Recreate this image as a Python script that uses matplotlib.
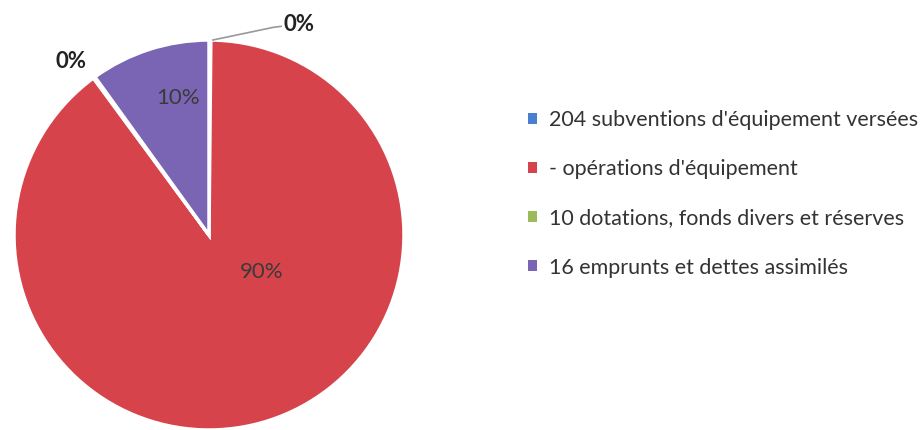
import matplotlib
matplotlib.use("Agg")
import matplotlib.pyplot as plt
import numpy as np

categories = ["204 subventions d'équipement versées",
              "- opérations d'équipement",
              "10 dotations, fonds divers et réserves",
              "16 emprunts et dettes assimilés"]
values = [0.15, 89.75, 0.15, 9.95]
pct_labels = ["0%", "90%", "0%", "10%"]
colors = ["#4a7fcf", "#d6434b", "#9bbb59", "#7a65b4"]

# label placement (axes-data units, pie radius = 1)
label_pos = [(0.46, 1.08), (0.27, -0.19), (-0.71, 0.89), (-0.16, 0.70)]
label_weight = ["bold", "normal", "bold", "normal"]

plt.rcParams['font.family'] = ['Lato', 'DejaVu Sans']

fig = plt.figure(figsize=(9.22, 4.30), dpi=100)
ax = fig.add_axes([14/922, 0/430, 390/922, 390/430])
wedges, _ = ax.pie(values, colors=colors, startangle=90, counterclock=False,
                   wedgeprops=dict(edgecolor="white", linewidth=2.5))
ax.set_xlim(-1, 1)
ax.set_ylim(-1, 1)
ax.set_aspect("equal")
ax.axis("off")
for w in wedges:
    w.set_clip_on(False)

for i, (lab, (x, y)) in enumerate(zip(pct_labels, label_pos)):
    ax.text(x, y, lab, ha="center", va="center", fontsize=16,
            color="#222222" if label_weight[i] == "bold" else "#3a3a3a",
            fontweight=label_weight[i], clip_on=False)

# leader line for first small slice
ax.plot([0.02, 0.33, 0.37], [1.0, 1.065, 1.07], color="#999999", lw=1.2, clip_on=False)

leg = fig.legend(wedges, categories, loc="upper left",
                 bbox_to_anchor=(509/922, 1 - 91/430), frameon=False,
                 fontsize=15.5, handlelength=0.4, handleheight=0.4,
                 handletextpad=0.55, labelspacing=1.35, labelcolor="#333333")
for h in leg.legend_handles:
    h.set_edgecolor("none")

fig.savefig("out.png", dpi=100)
